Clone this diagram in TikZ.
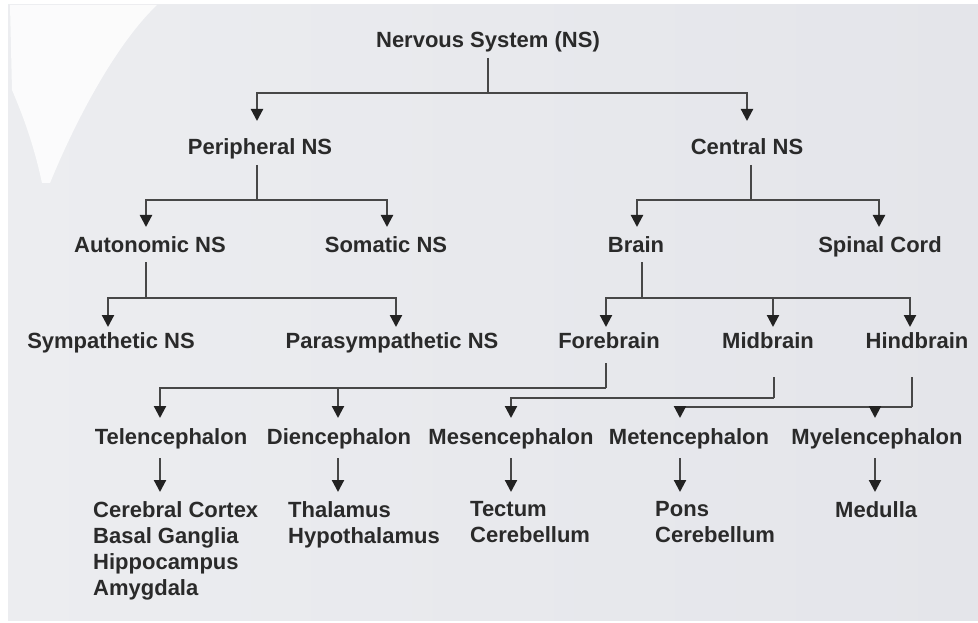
\documentclass[tikz,border=0pt]{standalone}
\usepackage{fontspec}
\setmainfont{Liberation Sans}
\usetikzlibrary{arrows.meta,calc}
\definecolor{bgL}{HTML}{ECEDF0}
\definecolor{bgR}{HTML}{E4E5EA}
\definecolor{txtc}{HTML}{2A2A2A}
\definecolor{lnc}{HTML}{474747}
\definecolor{tipc}{HTML}{222222}
\begin{document}
\begin{tikzpicture}[x=1pt,y=-1pt,
  lbl/.style={font=\fontsize{22}{26}\selectfont\bfseries, text=txtc, inner sep=0pt, anchor=base},
  leaf/.style={font=\fontsize{22}{26}\selectfont\bfseries, text=txtc, inner sep=0pt, anchor=north west, align=left},
  conn/.style={draw=lnc, line width=2.2pt},
  arr/.style={conn, -{Triangle[width=12pt,length=12pt,color=tipc]}}]
% background
\useasboundingbox (0,0) rectangle (978,623);
\fill[white] (0,0) rectangle (978,623);
\shade[left color=bgL, right color=bgR] (8,5) rectangle (978,620);
\fill[white, opacity=0.8] (10,5) -- (157,5) .. controls (120,40) and (80,110) .. (50,183)
  -- (42,183) .. controls (35,150) and (25,120) .. (12,90) -- cycle;
% nodes
\node[lbl] (ns)   at (488,48)  {Nervous System (NS)};
\node[lbl] (pns)  at (260,155) {Peripheral NS};
\node[lbl] (cns)  at (747,155) {Central NS};
\node[lbl] (ans)  at (150,252) {Autonomic NS};
\node[lbl] (sns)  at (386,252) {Somatic NS};
\node[lbl] (br)   at (636,252) {Brain};
\node[lbl] (sc)   at (880,252) {Spinal Cord};
\node[lbl] (sym)  at (111,348) {Sympathetic NS};
\node[lbl] (para) at (392,348) {Parasympathetic NS};
\node[lbl] (fb)   at (609,348) {Forebrain};
\node[lbl] (mb)   at (768,348) {Midbrain};
\node[lbl] (hb)   at (917,348) {Hindbrain};
\node[lbl] (tel)  at (171,444) {Telencephalon};
\node[lbl] (die)  at (339,444) {Diencephalon};
\node[lbl] (mes)  at (511,444) {Mesencephalon};
\node[lbl] (met)  at (689,444) {Metencephalon};
\node[lbl] (mye)  at (877,444) {Myelencephalon};
\node[leaf] (telx) at (93,501)  {Cerebral Cortex\\Basal Ganglia\\Hippocampus\\Amygdala};
\node[leaf] (diex) at (288,501) {Thalamus\\Hypothalamus};
\node[leaf] (mesx) at (470,501) {Tectum\\Cerebellum};
\node[leaf] (metx) at (655,501) {Pons\\Cerebellum};
\node[leaf] (myex) at (835,501) {Medulla};
% level 1
\draw[conn] ($(ns.base)+(0,10)$) -- ($(ns.base)+(0,45)$);
\draw[arr] ($(ns.base)+(0,45)$) -| ($(pns.base)+(-3,-34)$);
\draw[arr] ($(ns.base)+(0,45)$) -| ($(cns.base)+(0,-34)$);
% level 2
\draw[conn] ($(pns.base)+(-3,10)$) -- ($(pns.base)+(-3,45)$);
\draw[arr] ($(pns.base)+(-3,45)$) -| ($(ans.base)+(-4,-25)$);
\draw[arr] ($(pns.base)+(-3,45)$) -| ($(sns.base)+(1,-25)$);
\draw[conn] ($(cns.base)+(4,10)$) -- ($(cns.base)+(4,45)$);
\draw[arr] ($(cns.base)+(4,45)$) -| ($(br.base)+(1,-25)$);
\draw[arr] ($(cns.base)+(4,45)$) -| ($(sc.base)+(-1,-25)$);
% level 3
\draw[conn] ($(ans.base)+(-4,10)$) -- ($(ans.base)+(-4,46)$);
\draw[arr] ($(ans.base)+(-4,46)$) -| ($(sym.base)+(-3,-21)$);
\draw[arr] ($(ans.base)+(-4,46)$) -| ($(para.base)+(4,-21)$);
\draw[conn] ($(br.base)+(6,10)$) -- ($(br.base)+(6,46)$);
\draw[arr] ($(br.base)+(6,46)$) -| ($(fb.base)+(-3,-21)$);
\draw[arr] ($(br.base)+(6,46)$) -| ($(mb.base)+(5,-21)$);
\draw[arr] ($(br.base)+(6,46)$) -| ($(hb.base)+(-7,-21)$);
% level 4
\draw[conn] ($(fb.base)+(-3,15)$) -- ($(fb.base)+(-3,40)$);
\draw[arr] ($(fb.base)+(-3,40)$) -| ($(tel.base)+(-11,-26)$);
\draw[arr] ($(fb.base)+(-3,40)$) -| ($(die.base)+(-1,-26)$);
\draw[conn] ($(mb.base)+(6,29)$) -- ($(mb.base)+(6,50)$);
\draw[arr] ($(mb.base)+(6,50)$) -| ($(mes.base)+(0,-26)$);
\draw[conn] ($(hb.base)+(-5,29)$) -- ($(hb.base)+(-5,59)$);
\draw[arr] ($(hb.base)+(-5,59)$) -| ($(met.base)+(-9,-26)$);
\draw[arr] ($(hb.base)+(-5,59)$) -| ($(mye.base)+(-2,-26)$);
% level 5 to leaves
\draw[arr] ($(tel.base)+(-11,14)$) -- ($(telx.north west)+(67,-9)$);
\draw[arr] ($(die.base)+(-1,14)$) -- ($(diex.north west)+(50,-9)$);
\draw[arr] ($(mes.base)+(0,14)$) -- ($(mesx.north west)+(41,-9)$);
\draw[arr] ($(met.base)+(-9,14)$) -- ($(metx.north west)+(25,-9)$);
\draw[arr] ($(mye.base)+(-2,14)$) -- ($(myex.north west)+(40,-9)$);
\end{tikzpicture}
\end{document}
